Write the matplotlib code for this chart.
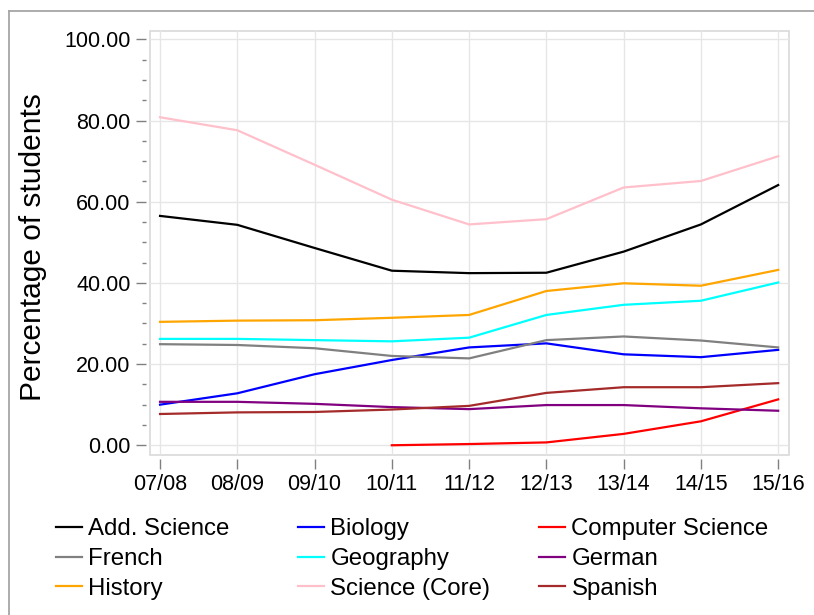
import matplotlib
matplotlib.use("Agg")
import matplotlib.pyplot as plt
from matplotlib.lines import Line2D
from matplotlib.patches import Rectangle
from matplotlib.ticker import MultipleLocator

plt.rcParams["font.family"] = ["Liberation Sans", "DejaVu Sans"]

years = ["07/08", "08/09", "09/10", "10/11", "11/12", "12/13", "13/14", "14/15", "15/16"]

add_science = [56.5, 54.3, 48.6, 43.0, 42.4, 42.5, 47.7, 54.4, 64.1]
biology = [10.0, 12.8, 17.5, 21.0, 24.1, 25.1, 22.4, 21.7, 23.5]
computer_science = [None, None, None, 0.0, 0.3, 0.7, 2.8, 5.9, 11.3]
french = [24.9, 24.7, 23.9, 22.0, 21.4, 25.9, 26.8, 25.8, 24.1]
geography = [26.2, 26.2, 25.9, 25.6, 26.5, 32.1, 34.6, 35.6, 40.1]
german = [10.7, 10.7, 10.2, 9.4, 8.9, 9.9, 9.9, 9.1, 8.5]
history = [30.4, 30.7, 30.8, 31.4, 32.1, 38.0, 39.9, 39.3, 43.2]
science_core = [80.8, 77.6, 69.1, 60.5, 54.4, 55.7, 63.5, 65.1, 71.2]
spanish = [7.7, 8.1, 8.2, 8.8, 9.7, 12.9, 14.3, 14.3, 15.3]

series = [
    ("Add. Science", add_science, "#000000"),
    ("Biology", biology, "#0000ff"),
    ("Computer Science", computer_science, "#ff0000"),
    ("French", french, "#808080"),
    ("Geography", geography, "#00ffff"),
    ("German", german, "#800080"),
    ("History", history, "#ffa500"),
    ("Science (Core)", science_core, "#ffc0cb"),
    ("Spanish", spanish, "#a52a2a"),
]

W, H = 814, 615
fig = plt.figure(figsize=(W / 100, H / 100), dpi=100, facecolor="white")

# outer frame (top and left edges only visible)
fig.add_artist(Line2D([9 / W, 9 / W], [0, 1 - 11 / H], transform=fig.transFigure, color="#a6a6a6", lw=1.3))
fig.add_artist(Line2D([9 / W, 1], [1 - 11 / H, 1 - 11 / H], transform=fig.transFigure, color="#a6a6a6", lw=1.3))

ax = fig.add_axes([150 / W, 1 - 455 / H, (789 - 150) / W, (455 - 31) / H])
x = list(range(len(years)))

handles = {}
for name, vals, color in series:
    xs = [i for i, v in zip(x, vals) if v is not None]
    ys = [v for v in vals if v is not None]
    (ln,) = ax.plot(xs, ys, color=color, lw=1.6, solid_joinstyle="round", zorder=3)
    handles[name] = ln

ax.set_xlim(-0.13, 8.14)
ax.set_ylim(-2.4, 102.05)
ax.set_xticks(x)
ax.set_xticklabels(years)
ax.yaxis.set_major_locator(MultipleLocator(20))
ax.yaxis.set_minor_locator(MultipleLocator(5))
ax.yaxis.set_major_formatter(lambda v, p: f"{v:.2f}")

ax.grid(True, which="major", color="#e6e6e6", lw=1.0, zorder=0)
for side in ["left", "bottom"]:
    ax.spines[side].set_position(("outward", 3))
    ax.spines[side].set_visible(False)
for side in ["top", "right"]:
    ax.spines[side].set_visible(False)
ax.add_patch(Rectangle((0, 0), 1, 1, transform=ax.transAxes, fill=False,
                       edgecolor="#d9d9d9", lw=1.2, clip_on=False, zorder=1))

ax.tick_params(axis="both", which="major", length=7, width=1, color="#808080",
               labelsize=15.5, pad=4)
ax.tick_params(axis="y", which="minor", length=3, width=1, color="#808080")
ax.tick_params(axis="x", which="minor", length=0)

fig.text(33 / W, 1 - 247 / H, "Percentage of students", rotation=90,
         ha="center", va="center", fontsize=21.5)

# legend in three columns
cols = [
    (56, ["Add. Science", "French", "History"]),
    (298, ["Biology", "Geography", "Science (Core)"]),
    (539, ["Computer Science", "German", "Spanish"]),
]
for left, names in cols:
    fig.legend([handles[n] for n in names], names, loc="upper left",
               bbox_to_anchor=(left / W, 1 - 518 / H), bbox_transform=fig.transFigure,
               frameon=False, fontsize=17.3, handlelength=1.1, handletextpad=0.25,
               labelspacing=0.33, borderpad=0, borderaxespad=0)

fig.savefig("out.png", dpi=100, facecolor="white")
